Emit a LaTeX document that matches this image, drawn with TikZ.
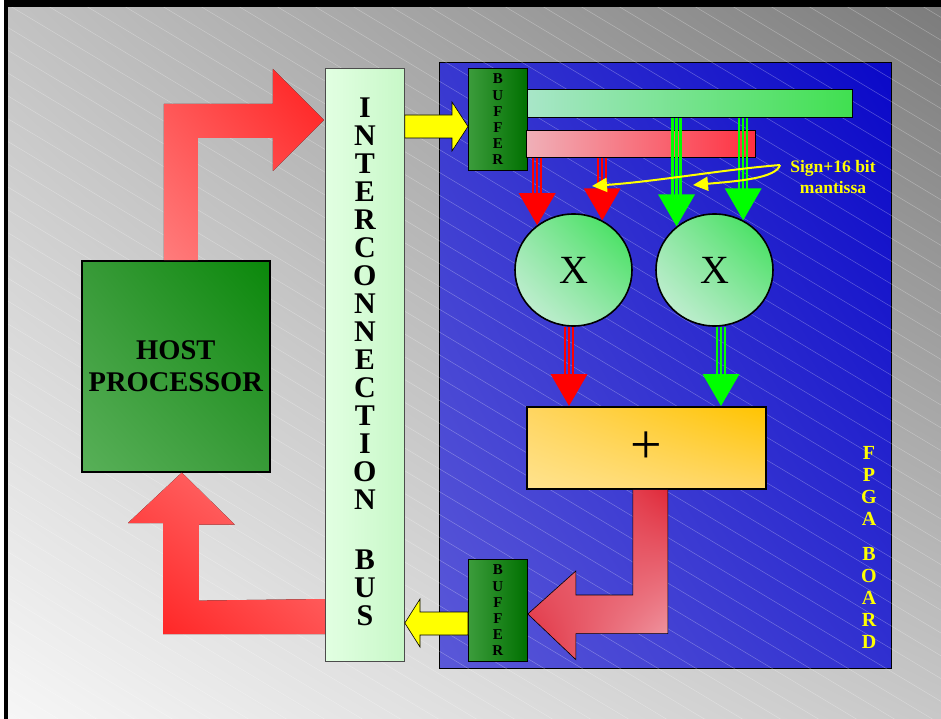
\documentclass[tikz,border=0pt]{standalone}
\usepackage{fontspec}
\setmainfont{Liberation Serif}
\usetikzlibrary{shapes.geometric,shadings,calc,arrows.meta}
\definecolor{bgUL}{HTML}{C2C2C2}
\definecolor{bgUR}{HTML}{7C7C7C}
\definecolor{bgLL}{HTML}{F6F6F6}
\definecolor{bgLR}{HTML}{C8C8C8}
\definecolor{brdUL}{HTML}{3838D0}
\definecolor{brdUR}{HTML}{0A08C8}
\definecolor{brdLL}{HTML}{5A58D8}
\definecolor{brdLR}{HTML}{3030D0}
\definecolor{hostA}{HTML}{58B058}
\definecolor{hostB}{HTML}{389A38}
\definecolor{hostC}{HTML}{0A880A}
\definecolor{busL}{HTML}{E2FFE2}
\definecolor{busR}{HTML}{C8F8C8}
\definecolor{bufL}{HTML}{3C9C3C}
\definecolor{bufR}{HTML}{007000}
\definecolor{gbarL}{HTML}{A8E6C8}
\definecolor{gbarR}{HTML}{40E050}
\definecolor{rbarL}{HTML}{F0B0B8}
\definecolor{rbarR}{HTML}{FF3040}
\definecolor{circA}{HTML}{D2F0E0}
\definecolor{circB}{HTML}{8EE6A4}
\definecolor{circC}{HTML}{34E050}
\definecolor{plusA}{HTML}{FFE38E}
\definecolor{plusB}{HTML}{FFD560}
\definecolor{plusC}{HTML}{FFC400}
\definecolor{redA}{HTML}{FF7C7C}
\definecolor{redB}{HTML}{FF5050}
\definecolor{redC}{HTML}{FF1E1E}
\definecolor{outA}{HTML}{E02A3A}
\definecolor{outB}{HTML}{EC7A88}
\definecolor{outC}{HTML}{F2A6B0}
\definecolor{pureRed}{HTML}{FF0000}
\definecolor{pureGreen}{HTML}{00FF00}
\definecolor{yel}{HTML}{FFFF00}
\newcommand\fnt[2]{\fontsize{#1}{#2}\selectfont}
\newcommand\tarr[3]{%
  \foreach \dx in {-4,0,4}{\draw[#1, line width=2.2pt] ([xshift=\dx pt]#2) -- ([xshift=\dx pt, yshift=31pt]#3);}
  \fill[#1] (#3) -- ++(-18.5,-32) -- ++(37,0) -- cycle;}
\tikzset{
  box/.style={draw, inner sep=0pt, anchor=north west},
  hatch/.style={white, opacity=0.3, line width=0.5pt},
  bufbox/.style={box, line width=0.8pt, left color=bufL, right color=bufR,
     minimum width=59, minimum height=102, font=\fnt{15}{16.2}\bfseries, align=center},
  yarr/.style={draw=black, line width=0.6pt, fill=yel},
  yline/.style={yel, line width=2pt, -{Triangle[length=15pt,width=14pt]}},
  xcirc/.style={draw, ellipse, line width=1.6pt, minimum width=117, minimum height=112,
     lower left=circA, upper left=circB, lower right=circB, upper right=circC,
     font=\fnt{40}{40}},
}
\begin{document}
\begin{tikzpicture}[x=1pt,y=-1pt]
\useasboundingbox (0,0) rectangle (941,719);
\fill[white] (0,0) rectangle (941,719);
\fill[black] (4,0) rectangle (941,719);
\shade[upper left=bgUL, upper right=bgUR, lower left=bgLL, lower right=bgLR] (8,8) rectangle (941,719);
% FPGA board
\node[box, line width=0.9pt, minimum width=452, minimum height=606,
  upper left=brdUL, upper right=brdUR, lower left=brdLL, lower right=brdLR] (board) at (439,62) {};
% hatch lines
\begin{scope}
\clip (8,8) rectangle (941,719);
\foreach \k in {-33,...,25} \draw[hatch] (\k*38,0) -- ++(1250,750);
\end{scope}
% host processor
\node[box, line width=1.6pt, minimum width=188, minimum height=211,
  lower left=hostA, upper left=hostB, lower right=hostB, upper right=hostC,
  font=\fnt{28.5}{32}\bfseries, align=center] (host) at (81,260) {HOST\\PROCESSOR};
% interconnection bus
\node[box, draw=black!70, line width=0.8pt, minimum width=79, minimum height=593,
  left color=busL, right color=busR] (bus) at (325,68) {};
\node[font=\fnt{30}{28}\bfseries, align=center, inner sep=0pt] (bustext) at ([yshift=3pt]bus.center)
  {I\\N\\T\\E\\R\\C\\O\\N\\N\\E\\C\\T\\I\\O\\N\\[32pt]B\\U\\S};
% big red arrows host <-> bus
\fill[lower left=redA, upper left=redB, lower right=redB, upper right=redC]
  ([xshift=-12pt]host.north) -- ++(0,-156) -- ++(109,0) -- ++(0,-35) -- ++(51,51)
  -- ++(-51,51) -- ++(0,-33) -- ++(-75,0) -- ++(0,122) -- cycle;
\fill[lower left=redC, upper left=redB, lower right=redB, upper right=redA]
  ([xshift=6pt]host.south) -- ++(53,52) -- ++(-36,0) -- ++(0,76) -- (bus.west |- 0,599)
  -- (bus.west |- 0,634) -- ++(-162,0) -- ++(0,-111) -- ++(-35,0) -- cycle;
% buffers
\node[bufbox] (buf1) at (468,68) {B\\U\\F\\F\\E\\R};
\node[bufbox] (buf2) at (468,559) {B\\U\\F\\F\\E\\R};
% yellow arrows
\draw[yarr] (bus.east |- 0,115) -- (452,115) -- (452,102) -- (buf1.west |- 0,126.5)
  -- (452,151) -- (452,138) -- (bus.east |- 0,138) -- cycle;
\draw[yarr] (buf2.west |- 0,612) -- (420,612) -- (420,599) -- (bus.east |- 0,623)
  -- (420,647) -- (420,635) -- (buf2.west |- 0,635) -- cycle;
% bars
\node[box, line width=0.8pt, minimum width=325, minimum height=28, left color=gbarL, right color=gbarR] (gbar) at (527,89) {};
\node[box, line width=0.8pt, minimum width=229, minimum height=27, left color=rbarL, right color=rbarR] (rbar) at (526,130) {};
% multipliers
\node[xcirc] (m1) at (573.5,270) {X};
\node[xcirc] (m2) at (714.5,270) {X};
% triple arrows into multipliers
\coordinate (r1s) at (rbar.south -| m1.129);
\coordinate (r2s) at (rbar.south -| m1.60);
\coordinate (g1s) at (gbar.south -| m2.131);
\coordinate (g2s) at (gbar.south -| m2.60);
\tarr{pureRed}{r1s}{m1.129}
\tarr{pureRed}{r2s}{m1.60}
\tarr{pureGreen}{g1s}{m2.131}
\tarr{pureGreen}{g2s}{m2.60}
% adder
\node[box, line width=1.6pt, minimum width=239, minimum height=82,
  lower left=plusA, upper left=plusB, lower right=plusB, upper right=plusC,
  font=\fnt{56}{56}] (plus) at (526,406) {+};
\coordinate (c1) at ([xshift=-4.5pt]m1.south);
\coordinate (c2) at ([xshift=6.5pt]m2.south);
\coordinate (p1) at (plus.north -| c1);
\coordinate (p2) at (plus.north -| c2);
\tarr{pureRed}{c1}{p1}
\tarr{pureGreen}{c2}{p2}
% output arrow adder -> buffer
\draw[line width=0.6pt, upper left=outB, upper right=outA, lower left=outA, lower right=outC]
  ([xshift=-13.5pt]plus.south) -- ([xshift=21.5pt]plus.south) -- ++(0,144) -- ++(-92,0)
  -- ++(0,26) -- (buf2.east |- 0,614) -- ++(48,-43) -- ++(0,24) -- ++(57,0) -- cycle;
% label
\node[font=\fnt{17.5}{21}\bfseries, text=yel, align=center] (lab) at (833,177.5) {Sign+16 bit\\mantissa};
\coordinate (ls) at (780,165);
\coordinate (t1) at (592,186);
\coordinate (t2) at (693,185);
\draw[yline] (ls) .. controls (720,170) and (660,181) .. (t1);
\draw[yline] (ls) .. controls (776,178) and (740,181) .. (t2);
% board text
\node[font=\fnt{20}{22}\bfseries, text=yel, align=center, inner sep=0pt] (fpga) at (869,547.5)
  {F\\P\\G\\A\\[13pt]B\\O\\A\\R\\D};
\end{tikzpicture}
\end{document}
